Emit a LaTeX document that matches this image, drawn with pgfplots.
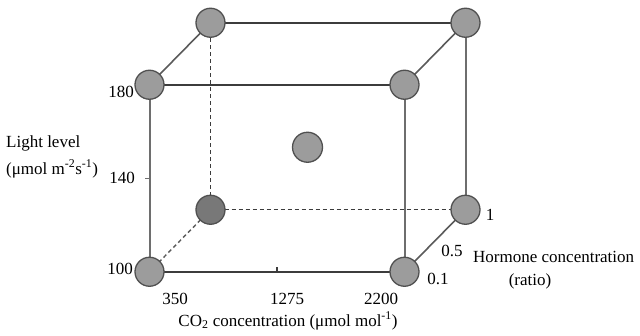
\documentclass[border=0pt]{standalone}
\usepackage{pgfplots}
\pgfplotsset{compat=1.18}
\usepackage{fontspec}
\setmainfont{Liberation Serif}
\definecolor{dotfill}{HTML}{9C9C9C}
\definecolor{dotdark}{HTML}{787878}
\definecolor{dotline}{HTML}{505050}
\definecolor{edgeH}{HTML}{3C3C3C}
\definecolor{edgeV}{HTML}{6E6E6E}
\definecolor{edgeD}{HTML}{5A5A5A}
\begin{document}
\fontsize{17pt}{20pt}\selectfont
\begin{tikzpicture}
\begin{axis}[
  x={(127.5pt,0pt)}, y={(30.5pt,31pt)}, z={(0pt,93.5pt)},
  hide axis, clip=false,
  xmin=-1,xmax=1,ymin=-1,ymax=1,zmin=-1,zmax=1,
]
% solid edges
\addplot3[edgeH, line width=1.7pt, no marks] coordinates {(-1,-1,-1) (1,-1,-1)};
\addplot3[edgeH, line width=1.7pt, no marks] coordinates {(-1,-1,1) (1,-1,1)};
\addplot3[edgeH, line width=1.7pt, no marks] coordinates {(-1,1,1) (1,1,1)};
\addplot3[edgeV, line width=2pt, no marks] coordinates {(-1,-1,-1) (-1,-1,1)};
\addplot3[edgeV, line width=2pt, no marks] coordinates {(1,-1,-1) (1,-1,1)};
\addplot3[edgeV, line width=2pt, no marks] coordinates {(1,1,-1) (1,1,1)};
\addplot3[edgeD, line width=1.6pt, no marks] coordinates {(-1,-1,1) (-1,1,1)};
\addplot3[edgeD, line width=1.6pt, no marks] coordinates {(1,-1,1) (1,1,1)};
\addplot3[edgeD, line width=1.6pt, no marks] coordinates {(1,-1,-1) (1,1,-1)};
% dashed edges
\addplot3[edgeH, line width=1.4pt, dash pattern=on 4pt off 3pt, no marks] coordinates {(-1,1,-1) (1,1,-1)};
\addplot3[edgeH, line width=1.6pt, dash pattern=on 4pt off 3pt, no marks] coordinates {(-1,1,-1) (-1,1,1)};
\addplot3[edgeD, line width=1.4pt, dash pattern=on 4pt off 3pt, no marks] coordinates {(-1,1,-1) (-1,-1,-1)};
% tick marks
\draw[edgeV, line width=1.2pt] (axis cs:-1,-1,0) -- ++(-5pt,0pt);
\draw[edgeH, line width=1.2pt] (axis cs:0,-1,-1) -- ++(0pt,5pt);
% dots
\addplot3[only marks, mark=*, mark size=14.5pt, mark options={fill=dotdark, draw=dotline, line width=1.3pt}] coordinates {(-1,1,-1)};
\addplot3[only marks, mark=*, mark size=14.5pt, mark options={fill=dotfill, draw=dotline, line width=1.3pt}] coordinates {
(-1,1,1) (1,1,1) (1,1,-1)};
\addplot3[only marks, mark=*, mark size=15pt, mark options={fill=dotfill, draw=dotline, line width=1.3pt}] coordinates {(0,0,0)};
\addplot3[only marks, mark=*, mark size=14.5pt, mark options={fill=dotfill, draw=dotline, line width=1.3pt}] coordinates {
(-1,-1,1) (1,-1,1) (-1,-1,-1) (1,-1,-1)};
\coordinate (TL) at (axis cs:-2.41176,0,1.57487);
\coordinate (BR) at (axis cs:2.60784,0,-2.00802);
\end{axis}
\pgfresetboundingbox
\path[use as bounding box] (TL) rectangle (BR);
\begin{scope}[shift={(TL)}, x=1pt, y=-1pt]
\node[anchor=east, inner sep=0pt] at (134,92) {180};
\node[anchor=east, inner sep=0pt] at (135,178) {140};
\node[anchor=east, inner sep=0pt] at (133,269) {100};
\node[inner sep=0pt] at (175,299) {350};
\node[inner sep=0pt] at (287,299) {1275};
\node[inner sep=0pt] at (381,299) {2200};
\node[inner sep=0pt] at (288,321) {CO\textsubscript{2} concentration (μmol mol\textsuperscript{-1})};
\node[inner sep=0pt] at (490,215) {1};
\node[inner sep=0pt] at (452,251) {0.5};
\node[inner sep=0pt] at (438,279) {0.1};
\node[anchor=west, inner sep=0pt] at (473,257) {Hormone concentration};
\node[inner sep=0pt] at (530,281) {(ratio)};
\node[anchor=west, inner sep=0pt] at (6,143) {Light level};
\node[anchor=west, inner sep=0pt] at (6,169) {(μmol m\textsuperscript{-2}s\textsuperscript{-1})};
\end{scope}
\end{tikzpicture}
\end{document}
